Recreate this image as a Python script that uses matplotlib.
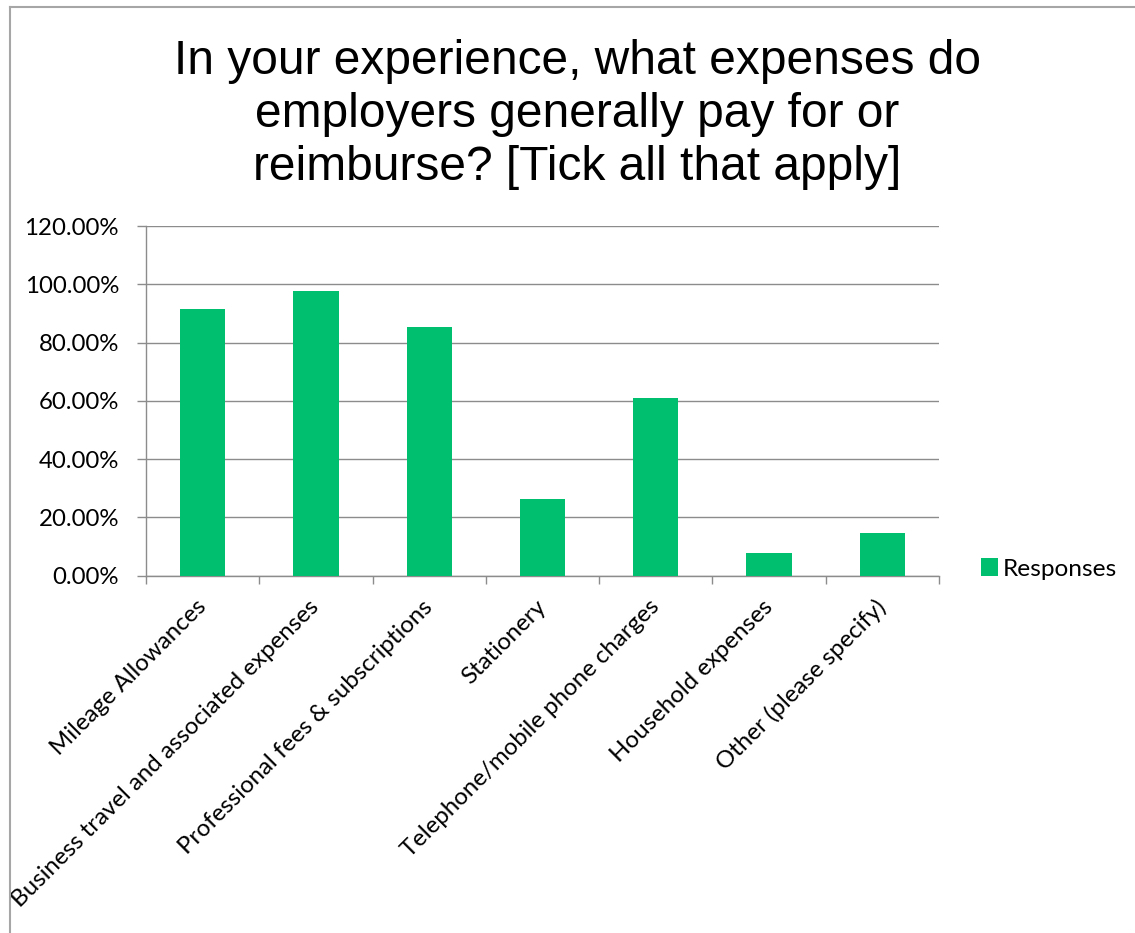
import matplotlib.pyplot as plt
from matplotlib.patches import Rectangle
from matplotlib.lines import Line2D
from matplotlib.ticker import FuncFormatter, FixedLocator

categories = [
    "Mileage Allowances",
    "Business travel and associated expenses",
    "Professional fees & subscriptions",
    "Stationery",
    "Telephone/mobile phone charges",
    "Household expenses",
    "Other (please specify)",
]
responses = [0.914, 0.978, 0.855, 0.263, 0.610, 0.077, 0.145]
y_ticks = [0.0, 0.2, 0.4, 0.6, 0.8, 1.0, 1.2]

title = ("In your experience, what expenses do\n"
         "employers generally pay for or\n"
         "reimburse? [Tick all that apply]")

bar_color = "#00BF6F"
axis_color = "#8C8C8C"
label_font = "Lato"

W, H = 1135, 933
fig = plt.figure(figsize=(W / 100, H / 100), dpi=100)

ax = fig.add_axes([146 / W, 1 - 575.7 / H, (939 - 146) / W, (575.7 - 226) / H])
x = list(range(len(categories)))
ax.bar(x, responses, width=0.4, color=bar_color, label="Responses", zorder=3)

ax.set_xlim(-0.5, len(categories) - 0.5)
ax.set_ylim(0, 1.2)
ax.set_yticks(y_ticks)
ax.yaxis.set_major_formatter(FuncFormatter(lambda v, _: f"{v * 100:.2f}%"))
ax.grid(axis="y", color=axis_color, linewidth=1.0, zorder=0)
ax.set_axisbelow(True)

for side in ["top", "right"]:
    ax.spines[side].set_visible(False)
for side in ["left", "bottom"]:
    ax.spines[side].set_color(axis_color)
    ax.spines[side].set_linewidth(1.0)

# category labels at bar centres, tick marks on the category boundaries
ax.set_xticks(x)
ax.set_xticklabels(categories, rotation=45, ha="right", va="center",
                   rotation_mode="anchor", fontsize=17.3, family=label_font)
ax.tick_params(axis="x", which="major", length=0, pad=20)
ax.xaxis.set_minor_locator(FixedLocator([i - 0.5 for i in range(len(categories) + 1)]))
ax.tick_params(axis="x", which="minor", length=6, width=1.0, color=axis_color)
ax.tick_params(axis="y", length=6.5, width=1.0, color=axis_color, pad=13)
for lbl in ax.get_yticklabels():
    lbl.set_fontsize(17.3)
    lbl.set_family(label_font)

fig.text(577 / W, 1 - 39 / H, title, ha="center", va="top", fontsize=34.5,
         family="Liberation Sans", linespacing=1.23)

fig.legend(loc="center left", bbox_to_anchor=(981 / W, 1 - 569 / H),
           frameon=False, prop={"family": label_font, "size": 17.6},
           handlelength=0.7, handleheight=0.7, handletextpad=0.2,
           borderpad=0, borderaxespad=0)

# chart frame, cut off on the left
fig.patches.append(Rectangle((0, 0), 10 / W, 1, transform=fig.transFigure,
                             facecolor="white", edgecolor="none", zorder=5))
fig.lines.append(Line2D([10 / W, 10 / W], [0, 1 - 7 / H], transform=fig.transFigure,
                        color="#A6A6A6", linewidth=1.5, zorder=6))
fig.lines.append(Line2D([10 / W, 1], [1 - 7 / H, 1 - 7 / H], transform=fig.transFigure,
                        color="#A6A6A6", linewidth=1.5, zorder=6))

fig.savefig("out.png", dpi=100, facecolor="white")
